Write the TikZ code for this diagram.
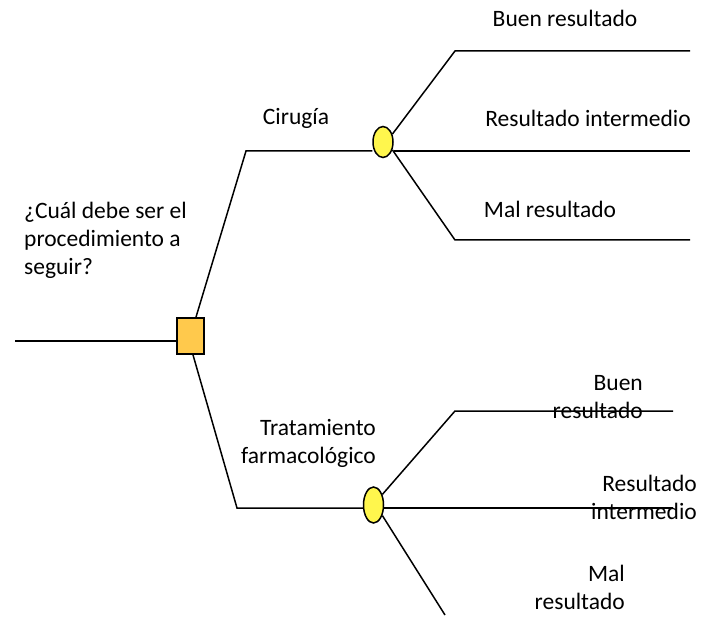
\documentclass[tikz,border=0pt]{standalone}
\usepackage{fontspec}
\setmainfont{Carlito}
\usetikzlibrary{shapes.geometric}

\begin{document}
\begin{tikzpicture}[x=1pt,y=-1pt,
    decision/.style={draw, line width=1.8pt, fill=orange!60!yellow!70, minimum width=27pt, minimum height=36pt, inner sep=0pt},
    chance/.style={draw, line width=1.5pt, ellipse, fill=yellow!70, inner sep=0pt},
    branch/.style={line width=1.5pt},
    lbl/.style={font=\fontsize{23.5}{28}\selectfont, inner sep=0pt}]

    % Bounding box
    \useasboundingbox (0,0) rectangle (701,617);

    % Nodes
    \node[decision] (dec) at (190.5,336) {};
    \node[chance, minimum width=20pt, minimum height=31pt] (c1) at (383,142) {};
    \node[chance, minimum width=20pt, minimum height=36pt] (c2) at (373.5,505) {};

    % Coordinates
    \coordinate (start) at (15,341);
    \coordinate (k1) at (246,151);
    \coordinate (k2) at (237,508);
    \coordinate (u1) at (455,51);   \coordinate (u1e) at (690,51);
    \coordinate (u2e) at (690,151);
    \coordinate (u3) at (455,240);  \coordinate (u3e) at (690,240);
    \coordinate (l1) at (455,411);  \coordinate (l1e) at (673,411);
    \coordinate (l2e) at (673,508);
    \coordinate (l3) at (445,615);

    % Decision branches
    \draw[branch] (start) -- (dec.west |- start);
    \draw[branch] (dec.north -| 196,0) -- (k1) -- (c1.west |- k1);
    \draw[branch] (dec.south -| 193,0) -- (k2) -- (c2.west |- k2);

    % Chance branches (upper)
    \draw[branch] (c1.40) -- (u1) -- (u1e);
    \draw[branch] (c1.east |- u2e) -- (u2e);
    \draw[branch] (c1.-40) -- (u3) -- (u3e);

    % Chance branches (lower)
    \draw[branch] (c2.50) -- (l1) -- (l1e);
    \draw[branch] (c2.east |- l2e) -- (l2e);
    \draw[branch] (c2.-50) -- (l3);

    % Labels
    \node[lbl, align=left, anchor=north west] (q) at (24,202) {¿Cuál debe ser el\\procedimiento a\\seguir?};
    \node[lbl] (t1) at (296,118) {Cirugía};
    \node[lbl] (t2) at (565,18) {Buen resultado};
    \node[lbl] (t3) at (588,118) {Resultado intermedio};
    \node[lbl] (t4) at (550,209) {Mal resultado};
    \node[lbl, align=right, anchor=east] (t5) at (376,443) {Tratamiento\\farmacológico};
    \node[lbl, align=right, anchor=east] (t6) at (643,397) {Buen\\resultado};
    \node[lbl, align=right, anchor=east] (t7) at (697,497) {Resultado\\intermedio};
    \node[lbl, align=right, anchor=east] (t8) at (625,587) {Mal\\resultado};

\end{tikzpicture}
\end{document}
